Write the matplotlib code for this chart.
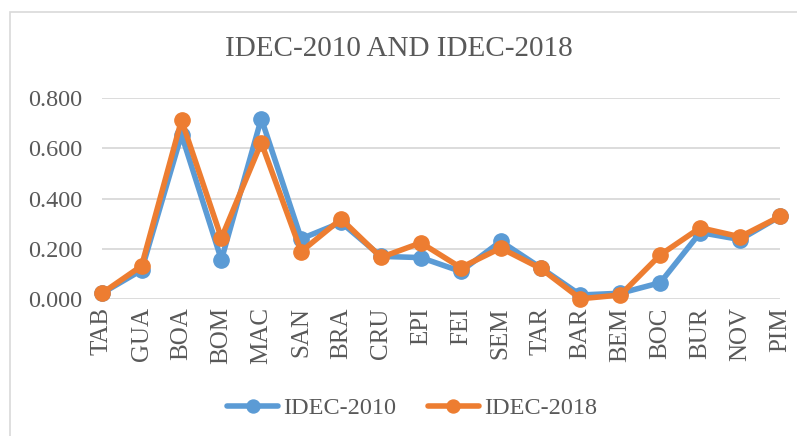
import matplotlib
matplotlib.use("Agg")
import matplotlib.pyplot as plt
from matplotlib.patches import Rectangle

# ==========================================
# DATA
# ==========================================

categories = ["TAB", "GUA", "BOA", "BOM", "MAC", "SAN", "BRA", "CRU", "EPI",
              "FEI", "SEM", "TAR", "BAR", "BEM", "BOC", "BUR", "NOV", "PIM"]

idec_2010 = [0.022, 0.115, 0.655, 0.156, 0.719, 0.240, 0.305, 0.170, 0.165,
             0.110, 0.230, 0.125, 0.016, 0.023, 0.065, 0.265, 0.237, 0.329]

idec_2018 = [0.022, 0.132, 0.713, 0.243, 0.623, 0.189, 0.319, 0.166, 0.224,
             0.125, 0.203, 0.122, 0.001, 0.016, 0.176, 0.284, 0.248, 0.329]

y_ticks = [0.0, 0.2, 0.4, 0.6, 0.8]

# ==========================================
# STYLE
# ==========================================

plt.rcParams['font.family'] = ['Liberation Serif', 'DejaVu Serif']
text_color = "#595959"
grid_color = "#D9D9D9"
blue = "#5B9BD5"
orange = "#ED7D31"

W, H = 797, 436
fig = plt.figure(figsize=(W / 100, H / 100), dpi=100)

# outer chart frame
fig.patches.append(Rectangle((10 / W, 0 - 0.01), 1.0, 1 - 12 / H + 0.01,
                             transform=fig.transFigure, fill=False,
                             edgecolor=grid_color, linewidth=1.2))

ax = fig.add_axes([101.7 / W, 1 - 299 / H, (780 - 101.7) / W, (299 - 98.3) / H])

x = list(range(len(categories)))

ax.plot(x, idec_2010, color=blue, linewidth=4, marker='o', markersize=11,
        label="IDEC-2010", clip_on=False, zorder=3, solid_capstyle='round')
ax.plot(x, idec_2018, color=orange, linewidth=4, marker='o', markersize=11,
        label="IDEC-2018", clip_on=False, zorder=4, solid_capstyle='round')

ax.set_xlim(0, len(categories) - 1)
ax.set_ylim(0, 0.8)
ax.set_yticks(y_ticks)
ax.set_yticklabels([f"{v:.3f}" for v in y_ticks])
ax.set_xticks(x)
ax.set_xticklabels(categories, rotation=90)

ax.tick_params(axis='y', length=0, pad=14, labelsize=17.5, labelcolor=text_color)
ax.tick_params(axis='x', length=0, pad=6, labelsize=18, labelcolor=text_color)

ax.grid(axis='y', color=grid_color, linewidth=1.3)
ax.set_axisbelow(True)
for s in ax.spines.values():
    s.set_visible(False)

fig.text(0.5, 1 - 49 / H, "IDEC-2010 AND IDEC-2018", ha='center', va='center',
         fontsize=21, color=text_color)

leg = fig.legend(loc='center', bbox_to_anchor=(412 / W, 1 - 408 / H), ncol=2,
                 frameon=False, fontsize=17.5, handlelength=2.1,
                 handletextpad=0.2, columnspacing=1.3, markerscale=0.85)
for t in leg.get_texts():
    t.set_color(text_color)

fig.savefig("out.png", dpi=100)
